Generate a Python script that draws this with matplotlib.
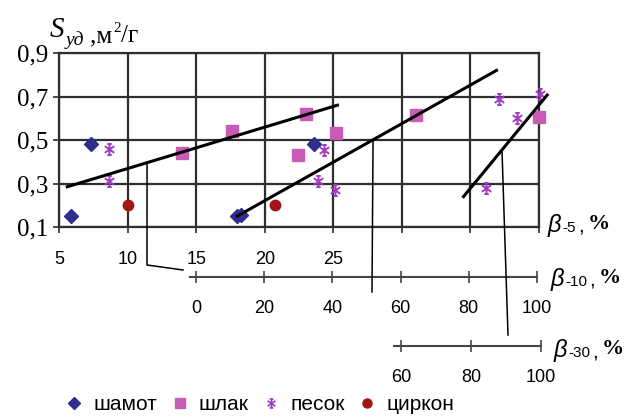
import matplotlib
matplotlib.use("Agg")
import matplotlib.pyplot as plt
from matplotlib.lines import Line2D
from matplotlib.path import Path
import numpy as np

# ---------------- data (main axis: beta-5 scale, y: S_ud) ----------------
shamot_x = [5.9, 7.3, 18.0, 18.3, 23.6]
shamot_y = [0.15, 0.48, 0.15, 0.153, 0.48]

shlak_x = [14.0, 17.6, 22.45, 23.0, 25.2, 31.0, 40.0]
shlak_y = [0.44, 0.54, 0.43, 0.62, 0.53, 0.615, 0.605]

pesok_x = [8.65, 8.65, 23.9, 24.3, 25.1, 36.1, 37.1, 38.4, 40.1]
pesok_y = [0.46, 0.31, 0.31, 0.455, 0.27, 0.28, 0.69, 0.60, 0.71]

cirkon_x = [10.05, 20.75]
cirkon_y = [0.20, 0.20]

# regression lines (endpoints)
line1_x = [5.6, 25.3]
line1_y = [0.285, 0.66]
line2_x = [18.0, 36.9]
line2_y = [0.15, 0.82]
line3_x = [34.5, 40.6]
line3_y = [0.24, 0.707]

b5_ticks = [5, 10, 15, 20, 25, 30, 35, 40]
b5_labels = ["5", "10", "15", "20", "25", "", "", ""]
b10_ticks = [0, 20, 40, 60, 80, 100]
b30_ticks = [60, 80, 100]
y_ticks = [0.1, 0.3, 0.5, 0.7, 0.9]
y_labels = ["0,1", "0,3", "0,5", "0,7", "0,9"]

series_names = ["шамот", "шлак", "песок", "циркон"]

# ---------------- figure ----------------
W, H = 635, 417
fig = plt.figure(figsize=(W / 100, H / 100), dpi=100)


def fx(px):
    return px / W


def fy(py):
    return 1 - py / H


SANS = "Liberation Sans"
SERIF = "Liberation Serif"
GRID = "#2e2e2e"

col_shamot = "#2e2e8f"
col_shlak = "#c85cb4"
col_pesok = "#a03cc4"
col_cirkon = "#a31515"

star_path = Path(
    [(0, -1), (0, 1), (-0.85, -0.6), (0.85, 0.6), (-0.85, 0.6), (0.85, -0.6),
     (-0.4, 1), (0.4, 1), (-0.4, -1), (0.4, -1)],
    [Path.MOVETO, Path.LINETO] * 5,
)

# main axes
ax = fig.add_axes([fx(59), fy(227), fx(539) - fx(59), fy(53) - fy(227)])
ax.set_xlim(5, 40)
ax.set_ylim(0.1, 0.9)
for s in ax.spines.values():
    s.set_color(GRID)
    s.set_linewidth(1.6)
ax.set_xticks(b5_ticks)
ax.set_xticklabels(b5_labels, fontfamily=SANS, fontsize=13)
ax.set_yticks(y_ticks)
ax.set_yticklabels(y_labels, fontfamily=SERIF, fontsize=18)
ax.tick_params(axis="x", direction="inout", length=9, width=1.2, color=GRID, pad=13)
ax.tick_params(axis="y", direction="inout", length=9, width=1.2, color=GRID, pad=3)
ax.grid(True, color=GRID, linewidth=1.6)
ax.set_axisbelow(True)

ax.plot(shamot_x, shamot_y, linestyle="none", marker="D", ms=7, color=col_shamot, clip_on=False, zorder=3)
ax.plot(shlak_x, shlak_y, linestyle="none", marker="s", ms=8.5, color=col_shlak, clip_on=False, zorder=3)
ax.plot(pesok_x, pesok_y, linestyle="none", marker=star_path, ms=8, markeredgewidth=1.4,
        color=col_pesok, markeredgecolor=col_pesok, clip_on=False, zorder=3)
ax.plot(cirkon_x, cirkon_y, linestyle="none", marker="o", ms=7.5, color=col_cirkon, clip_on=False, zorder=3)

for lx, ly in [(line1_x, line1_y), (line2_x, line2_y), (line3_x, line3_y)]:
    ax.plot(lx, ly, color="black", lw=2.2, clip_on=False, zorder=4)

# secondary axis beta-10 : 0 -> 196px, 100 -> 537px
ax10 = fig.add_axes([fx(190), fy(277), fx(537) - fx(190), 0.001])
ax10.set_xlim(-1.76, 100)
# secondary axis beta-30 : 60 -> 401px, 100 -> 541px
ax30 = fig.add_axes([fx(394), fy(346), fx(541) - fx(394), 0.001])
ax30.set_xlim(58, 100)
for a, ticks in [(ax10, b10_ticks), (ax30, b30_ticks)]:
    a.patch.set_visible(False)
    for k in ["top", "left", "right"]:
        a.spines[k].set_visible(False)
    a.spines["bottom"].set_color("#444444")
    a.spines["bottom"].set_linewidth(1.5)
    a.set_yticks([])
    a.set_xticks(ticks)
    a.set_xticklabels([str(t) for t in ticks], fontfamily=SANS, fontsize=13)
    a.tick_params(axis="x", direction="inout", length=9, width=1.2, color="#444444", pad=12)

# connector lines from regression lines to their axes
def on_line(lx, ly, x):
    return np.interp(x, lx, ly)

inv = fig.transFigure.inverted()
conns = [
    (line1_x, line1_y, 11.42, [(147, 265), (183, 270)]),
    (line2_x, line2_y, 27.9, [(372, 292)]),
    (line3_x, line3_y, 37.3, [(508, 335)]),
]
for lx, ly, xs, pts in conns:
    start = inv.transform(ax.transData.transform((xs, on_line(lx, ly, xs))))
    xsF = [start[0]] + [fx(p[0]) for p in pts]
    ysF = [start[1]] + [fy(p[1]) for p in pts]
    fig.add_artist(Line2D(xsF, ysF, color="black", lw=1.1, transform=fig.transFigure))

# axis titles
def beta_label(px, py, sub):
    fig.text(fx(px), fy(py), "β", fontfamily=SANS, fontstyle="italic", fontsize=17, va="baseline")
    fig.text(fx(px + 14), fy(py), sub, fontfamily=SANS, fontsize=11, va="baseline")
    fig.text(fx(px + 14 + 8 * len(sub)), fy(py), ",", fontfamily=SANS, fontsize=15, va="baseline")
    fig.text(fx(px + 14 + 8 * len(sub) + 10), fy(py - 3), "%", fontfamily=SERIF, fontweight="bold",
             fontsize=16, va="baseline")

beta_label(548, 232, "-5")
beta_label(551, 286, "-10")
beta_label(554, 357, "-30")

# y-axis title
fig.text(fx(50), fy(37), "S", fontfamily=SERIF, fontstyle="italic", fontsize=21, va="baseline")
fig.text(fx(66), fy(45), "уд", fontfamily=SERIF, fontstyle="italic", fontsize=14, va="baseline")
fig.text(fx(90), fy(42), ",м", fontfamily=SERIF, fontsize=18, va="baseline")
fig.text(fx(113), fy(32), "2", fontfamily=SERIF, fontsize=11, va="baseline")
fig.text(fx(121), fy(42), "/г", fontfamily=SERIF, fontsize=18, va="baseline")

# legend
handles = [
    Line2D([], [], linestyle="none", marker="D", ms=6, color=col_shamot),
    Line2D([], [], linestyle="none", marker="s", ms=7, color=col_shlak),
    Line2D([], [], linestyle="none", marker=star_path, ms=6.5, markeredgewidth=1.2,
           color=col_pesok, markeredgecolor=col_pesok),
    Line2D([], [], linestyle="none", marker="o", ms=6.5, color=col_cirkon),
]
fig.legend(handles, series_names, loc="center", bbox_to_anchor=(fx(261), fy(405)), ncol=4,
           frameon=False, prop={"family": SANS, "size": 15}, handlelength=0.6,
           handletextpad=0.6, columnspacing=0.8, borderpad=0)

fig.savefig("out.png", dpi=100)
